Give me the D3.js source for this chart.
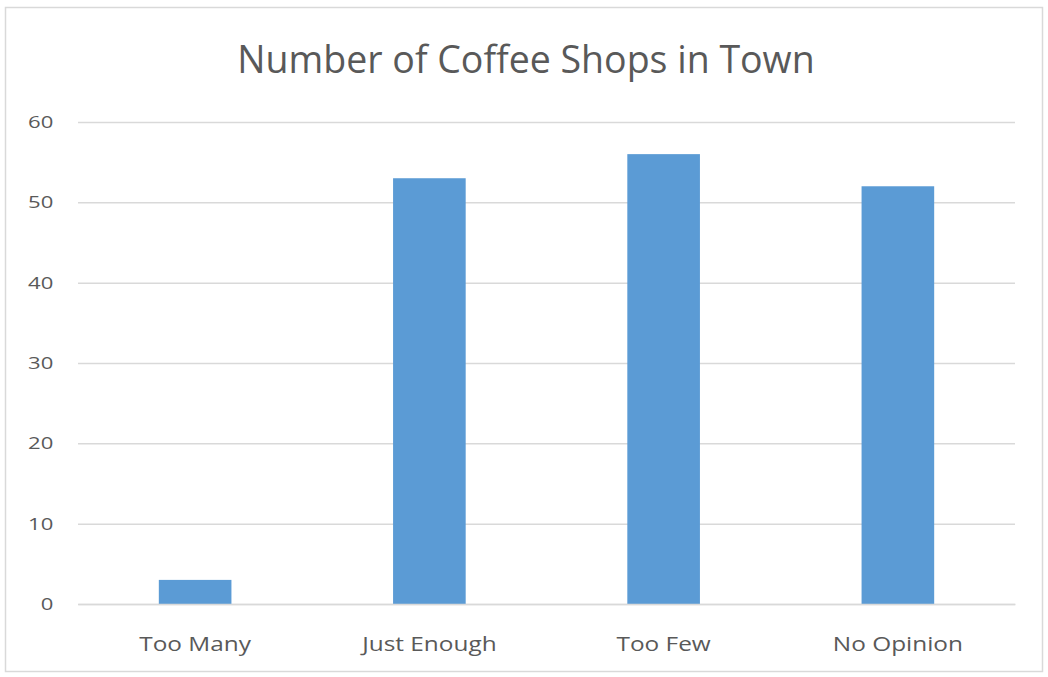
<!DOCTYPE html>
<html>
<head>
<meta charset="utf-8">
<script src="https://cdn.jsdelivr.net/npm/d3@7"></script>
<style>
  html, body { margin: 0; padding: 0; background: #fff; }
  svg { display: block; }
</style>
</head>
<body>
<svg id="chart" width="1048" height="677"></svg>
<script>
// Survey responses: opinion on the number of coffee shops in town
const categories = ["Too Many", "Just Enough", "Too Few", "No Opinion"];
const counts = [3, 53, 56, 52];
const yTicks = [0, 10, 20, 30, 40, 50, 60];
const titleText = "Number of Coffee Shops in Town";

const svg = d3.select("#chart");
const W = 1048, H = 677;
const margin = { top: 122, right: 33, bottom: 73, left: 78 };
const innerW = W - margin.left - margin.right;
const innerH = H - margin.top - margin.bottom;
const FONT = "'Open Sans', sans-serif";
const TEXT_COLOR = "#595959";

// chart frame
svg.append("rect")
  .attr("x", 5.5).attr("y", 7.5)
  .attr("width", 1037).attr("height", 664)
  .attr("fill", "#fff")
  .attr("stroke", "#d9d9d9")
  .attr("stroke-width", 1.5);

const x = d3.scaleBand()
  .domain(categories)
  .range([0, innerW])
  .paddingInner(0.69)
  .paddingOuter(0.345);

const y = d3.scaleLinear()
  .domain([0, 60])
  .range([innerH, 0]);

const g = svg.append("g")
  .attr("transform", `translate(${margin.left},${margin.top})`);

// horizontal gridlines + value labels
const yAxis = d3.axisLeft(y)
  .tickValues(yTicks)
  .tickSize(-innerW);

g.append("g")
  .attr("class", "y-axis")
  .call(yAxis)
  .call(s => s.select(".domain").remove())
  .call(s => s.selectAll(".tick line")
    .attr("stroke", "#d9d9d9")
    .attr("stroke-width", 1.5))
  .call(s => s.selectAll(".tick text")
    .attr("fill", TEXT_COLOR)
    .attr("font-family", FONT)
    .attr("font-size", 17)
    .attr("text-anchor", "end")
    .attr("x", -19)
    .attr("transform", "scale(1.3,1)"));

// bars
g.selectAll("rect.bar")
  .data(categories.map((c, i) => ({ c, v: counts[i] })))
  .join("rect")
  .attr("class", "bar")
  .attr("x", d => x(d.c))
  .attr("y", d => y(d.v))
  .attr("width", x.bandwidth())
  .attr("height", d => y(0) - y(d.v))
  .attr("fill", "#5b9bd5");

// category axis
const xAxis = d3.axisBottom(x).tickSize(0);
g.append("g")
  .attr("class", "x-axis")
  .attr("transform", `translate(0,${innerH})`)
  .call(xAxis)
  .call(s => s.select(".domain")
    .attr("stroke", "#d9d9d9")
    .attr("stroke-width", 1.5))
  .call(s => s.selectAll(".tick text")
    .attr("fill", TEXT_COLOR)
    .attr("font-family", FONT)
    .attr("font-size", 20)
    .attr("y", 47)
    .attr("dy", 0)
    .attr("transform", "scale(1.22,1)"));

// title
svg.append("text")
  .attr("x", 526)
  .attr("y", 73)
  .attr("text-anchor", "middle")
  .attr("fill", TEXT_COLOR)
  .attr("font-family", FONT)
  .attr("font-size", 37.5)
  .text(titleText);
</script>
</body>
</html>
